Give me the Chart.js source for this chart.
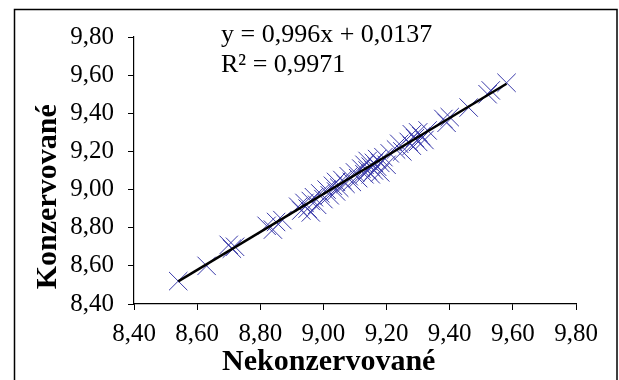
<!DOCTYPE html>
<html>
<head>
<meta charset="utf-8">
<script src="https://cdn.jsdelivr.net/npm/chart.js@4/dist/chart.umd.min.js"></script>
<style>
  html, body { margin: 0; padding: 0; background: #ffffff; }
  canvas { display: block; }
</style>
</head>
<body>
<canvas id="c" width="619" height="380"></canvas>
<script>
// ---- data ----
const nekonzervovane = [
  8.54, 8.63, 8.70, 8.71, 8.72, 8.82, 8.84, 8.85, 8.87, 8.92,
  8.93, 8.94, 8.95, 8.96, 8.96, 8.97, 8.98, 8.99, 9.00, 9.01,
  9.02, 9.03, 9.04, 9.04, 9.05, 9.06, 9.07, 9.08, 9.09, 9.10,
  9.11, 9.12, 9.13, 9.13, 9.14, 9.14, 9.15, 9.15, 9.16, 9.16,
  9.17, 9.17, 9.18, 9.18, 9.19, 9.20, 9.21, 9.23, 9.24, 9.25,
  9.27, 9.28, 9.28, 9.29, 9.30, 9.30, 9.31, 9.32, 9.33, 9.38,
  9.39, 9.40, 9.46, 9.52, 9.53, 9.58
];
const konzervovane = [
  8.52, 8.60, 8.71, 8.69, 8.70, 8.81, 8.79, 8.83, 8.84, 8.91,
  8.89, 8.93, 8.90, 8.94, 8.88, 8.96, 8.92, 8.98, 8.95, 9.00,
  8.97, 9.02, 8.99, 9.04, 9.01, 9.05, 9.03, 9.07, 9.04, 9.09,
  9.06, 9.11, 9.08, 9.13, 9.10, 9.15, 9.12, 9.08, 9.14, 9.10,
  9.16, 9.12, 9.14, 9.09, 9.17, 9.13, 9.19, 9.21, 9.24, 9.20,
  9.25, 9.29, 9.23, 9.27, 9.30, 9.25, 9.28, 9.26, 9.31, 9.37,
  9.35, 9.38, 9.43, 9.50, 9.52, 9.56
];
const trendX = [8.54, 9.58];
const trendY = [8.519, 9.555];
const xTickLabels = ['8,40', '8,60', '8,80', '9,00', '9,20', '9,40', '9,60', '9,80'];
const yTickLabels = ['8,40', '8,60', '8,80', '9,00', '9,20', '9,40', '9,60', '9,80'];
const equationLines = ['y = 0,996x + 0,0137', 'R\u00B2 = 0,9971'];
const xTitle = 'Nekonzervované';
const yTitle = 'Konzervované';

const AXIS_MIN = 8.4, AXIS_MAX = 9.8, STEP = 0.2;
const tickLabel = (labels) => (v) => {
  const i = Math.round((v - AXIS_MIN) / STEP);
  return labels[i] !== undefined ? labels[i] : '';
};

const scatterPoints = nekonzervovane.map((x, i) => ({ x: x, y: konzervovane[i] }));
const trendPoints = trendX.map((x, i) => ({ x: x, y: trendY[i] }));

const framePlugin = {
  id: 'frame',
  beforeDraw(chart) {
    const ctx = chart.ctx;
    ctx.save();
    ctx.fillStyle = '#ffffff';
    ctx.fillRect(0, 0, chart.width, chart.height);
    ctx.strokeStyle = '#000000';
    ctx.lineWidth = 1.5;
    ctx.strokeRect(14.5, 9.5, 602.5, 390);
    ctx.restore();
  },
  afterDraw(chart) {
    const ctx = chart.ctx;
    ctx.save();
    ctx.fillStyle = '#000000';
    ctx.font = '26px "Liberation Serif", "Times New Roman", serif';
    ctx.textBaseline = 'alphabetic';
    ctx.textAlign = 'left';
    ctx.fillText(equationLines[0], 221, 42);
    ctx.fillText(equationLines[1], 221, 72);
    ctx.restore();
  }
};

const serif = '"Liberation Serif", "Times New Roman", serif';

new Chart(document.getElementById('c'), {
  type: 'scatter',
  data: {
    datasets: [
      {
        type: 'line',
        label: 'Trend',
        data: trendPoints,
        borderColor: '#000000',
        borderWidth: 2.5,
        pointRadius: 0,
        fill: false,
        tension: 0
      },
      {
        label: 'Data',
        data: scatterPoints,
        pointStyle: 'crossRot',
        pointRadius: 13,
        pointHoverRadius: 13,
        borderColor: '#3a3aaa',
        backgroundColor: '#3a3aaa',
        pointBorderWidth: 1
      }
    ]
  },
  options: {
    responsive: false,
    animation: false,
    events: [],
    layout: { padding: { left: 0, right: 43, top: 37, bottom: 0 } },
    plugins: {
      legend: { display: false },
      tooltip: { enabled: false }
    },
    scales: {
      x: {
        type: 'linear',
        min: AXIS_MIN,
        max: AXIS_MAX,
        afterFit(scale) { scale.height = 76; },
        ticks: {
          stepSize: STEP,
          padding: 9,
          color: '#000000',
          font: { family: serif, size: 25 },
          maxRotation: 0,
          callback: tickLabel(xTickLabels)
        },
        grid: { drawOnChartArea: false, drawTicks: true, tickLength: 6, color: '#000000', tickColor: '#000000' },
        border: { display: true, color: '#000000', width: 1.2 },
        title: {
          display: true,
          text: xTitle + '\u00A0\u00A0\u00A0\u00A0\u00A0\u00A0\u00A0',
          color: '#000000',
          font: { family: serif, size: 30, weight: 'bold' },
          padding: { top: 0, bottom: 0 }
        }
      },
      y: {
        type: 'linear',
        min: AXIS_MIN,
        max: AXIS_MAX,
        afterFit(scale) { scale.width = 134; },
        ticks: {
          stepSize: STEP,
          padding: 14,
          color: '#000000',
          font: { family: serif, size: 25 },
          callback: tickLabel(yTickLabels)
        },
        grid: { drawOnChartArea: false, drawTicks: true, tickLength: 6, color: '#000000', tickColor: '#000000' },
        border: { display: true, color: '#000000', width: 1.2 },
        title: {
          display: true,
          text: yTitle + '\u00A0\u00A0\u00A0\u00A0\u00A0\u00A0\u00A0',
          color: '#000000',
          font: { family: serif, size: 30, weight: 'bold' },
          padding: { top: 30, bottom: 0 }
        }
      }
    }
  },
  plugins: [framePlugin]
});
</script>
</body>
</html>
